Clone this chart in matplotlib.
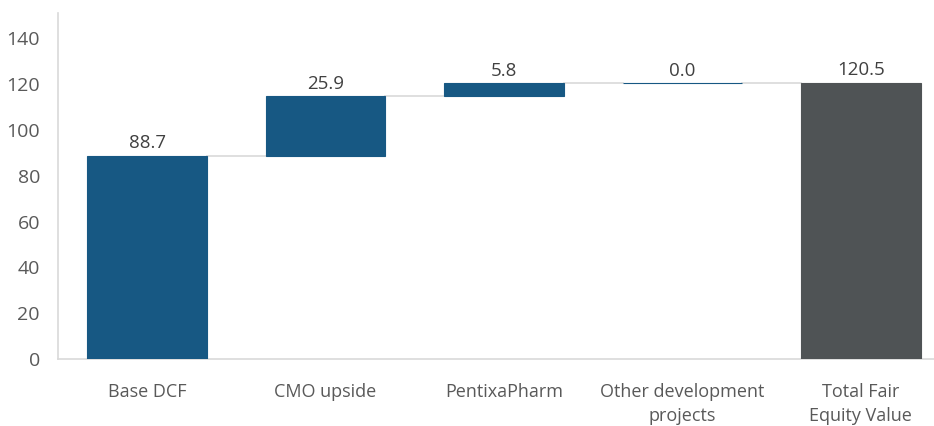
import matplotlib.pyplot as plt
import numpy as np

plt.rcParams['font.family'] = ['Open Sans', 'DejaVu Sans']

# waterfall data
labels = ['Base DCF', 'CMO upside', 'PentixaPharm', 'Other development\nprojects', 'Total Fair\nEquity Value']
steps = [88.7, 25.9, 5.8, 0.0]
total = 120.5
yticks = [0, 20, 40, 60, 80, 100, 120, 140]

blue = '#175883'
grey = '#4f5355'
txt = '#595959'

bases = np.concatenate([[0], np.cumsum(steps)[:-1]])
heights = steps + [total]
bottoms = list(bases) + [0]
colors = [blue] * len(steps) + [grey]
x = np.arange(len(labels))
w = 0.67

fig = plt.figure(figsize=(9.34, 4.26), dpi=100)
ax = fig.add_axes([58 / 934, 67 / 426, 892 / 934, 346 / 426])

ax.bar(x, heights, bottom=bottoms, width=w, color=colors, edgecolor=colors, linewidth=0.8, zorder=3)

# connector lines
tops = [b + h for b, h in zip(bottoms, heights)]
for i in range(len(labels) - 1):
    ax.plot([x[i] + w / 2, x[i + 1] - w / 2], [tops[i], tops[i]], color='#d9d9d9', lw=1.2, zorder=2)

for i in range(len(labels)):
    ax.text(x[i], tops[i] + 1.5, f'{heights[i]:.1f}', ha='center', va='bottom', fontsize=13.5, color='#404040')

ax.set_xlim(-0.5, len(labels) - 0.5)
ax.set_ylim(0, 151)
ax.set_yticks(yticks)
ax.set_xticks(x)
ax.set_xticklabels(labels, linespacing=1.45)
ax.tick_params(axis='x', length=0, colors=txt, labelsize=13, pad=17)
ax.tick_params(axis='y', length=0, colors=txt, labelsize=14, pad=13)
for s in ['top', 'right']:
    ax.spines[s].set_visible(False)
for s in ['left', 'bottom']:
    ax.spines[s].set_color('#d9d9d9')
    ax.spines[s].set_linewidth(1.2)

fig.savefig('out.png', dpi=100)
